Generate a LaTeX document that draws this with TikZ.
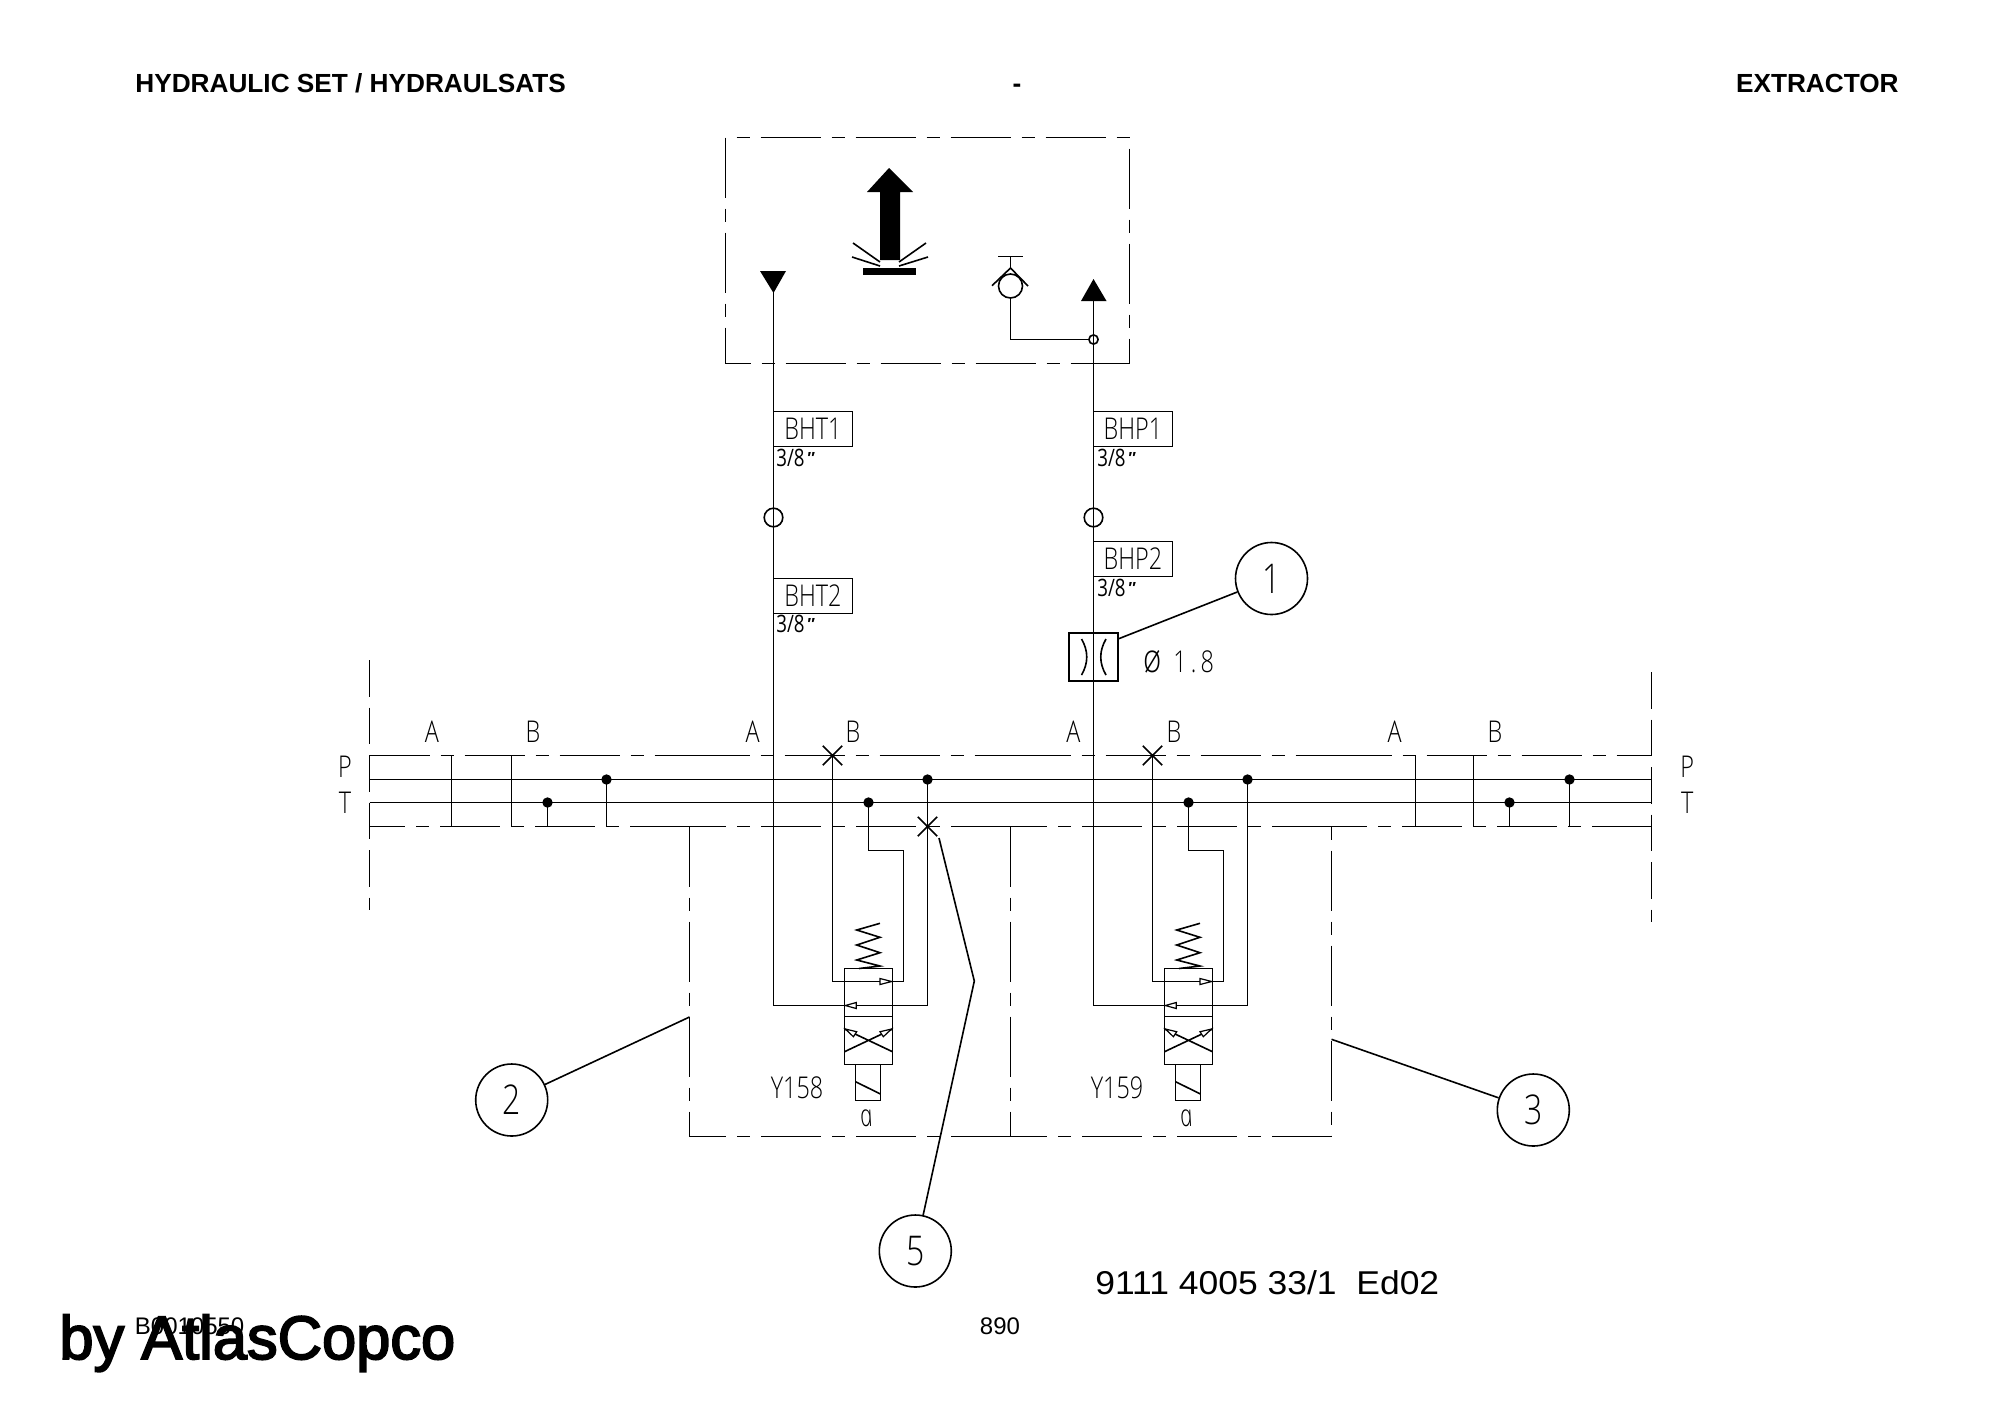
\documentclass[tikz,border=0pt]{standalone}
\usepackage{fontspec}
\setmainfont{Liberation Sans}
\newfontfamily\iso[FakeStretch=0.78]{Open Sans Light}
\newfontfamily\isoreg[FakeStretch=0.78]{Open Sans}
\newfontfamily\isoa[FakeStretch=0.72,FakeSlant=-0.2]{Open Sans Light Italic}
\newfontfamily\arialb{Liberation Sans Bold}
\newfontfamily\marksans{Liberation Sans Bold Italic}
\newfontfamily\wide[FakeStretch=1.075]{Liberation Sans}
\newfontfamily\fatreg[FakeBold=3]{Liberation Sans}
\newcommand\inchmark{\hspace{1pt}\raisebox{1.4pt}{\marksans\fontsize{8}{8}\selectfont ″}}
\tikzset{
  ln/.style={line width=0.8pt,black},
  secdash/.style={ln,dash pattern=on 30pt off 5.5pt on 6.5pt off 5.5pt,dash phase=#1},
  secdash/.default=0pt,
  bound/.style={ln,dash pattern=on 18.25pt off 5.5pt},
  isotext/.style={inner sep=0pt,font=\iso\fontsize{15}{15}\selectfont},
  small/.style={inner sep=0pt,anchor=base west,font=\isoreg\fontsize{12}{12}\selectfont},
  tag/.style={draw,ln,minimum width=39.5pt,minimum height=17.5pt,inner sep=0pt,font=\iso\fontsize{15}{15}\selectfont},
  balloon/.style={draw,ln,circle,minimum size=36pt,inner sep=0pt,font=\iso\fontsize{20.5}{20.5}\selectfont},
  ring/.style={draw,ln,circle,minimum size=9.3pt,inner sep=0pt},
  dotn/.style={fill=black,circle,minimum size=5.2pt,inner sep=0pt},
  head/.style={inner sep=0pt,font=\arialb\fontsize{13.1}{13.1}\selectfont},
  plain/.style={inner sep=0pt,font=\fontsize{12}{12}\selectfont},
  hollow/.style={ln,fill=white,line width=0.6pt}
}
% one valve section: x shift in pt, prefix, solenoid label, top of main line
\newcommand\valvesection[4]{%
\begin{scope}[xshift=#1pt]
  \node[dotn] (#2-dt) at (868.5,802.5) {};
  \node[dotn] (#2-dp) at (927.5,779.5) {};
  \coordinate (#2-ab) at (832.5,755.5);
  \coordinate (#2-c1) at (868.5,850.5);
  \coordinate (#2-c2) at (903.5,850.5);
  \coordinate (#2-c3) at (903.5,981.5);
  \coordinate (#2-c4) at (832.5,981.5);
  \coordinate (#2-c5) at (927.5,1005.5);
  \coordinate (#2-c6) at (773.5,1005.5);
  \draw[ln] (#4) -- (#2-c6) -- (#2-c5) -- (#2-dp.center);
  \draw[ln] (#2-dt.center) -- (#2-c1) -- (#2-c2) -- (#2-c3) -- (#2-c4) -- (#2-ab);
  \draw[ln] (844.5,968.5) rectangle (892.5,1064.5);
  \draw[ln] (844.5,1016.5) -- (892.5,1016.5);
  \draw[ln] (844.5,1029) -- (892.5,1051.7) (892.5,1029) -- (844.5,1051.7);
  \draw[ln] (855.5,1064.5) rectangle (880.5,1100.5);
  \draw[ln] (855.5,1081.7) -- (880.5,1094);
  \draw[ln,line join=miter] (880,923.3) -- (856.7,930) -- (880,937.3) -- (856.7,945) -- (880,952.7) -- (856.7,960) -- (880,966) -- (859,968.5);
  \draw[hollow] (891.7,981.5) -- (880,978.5) -- (880,984.5) -- cycle;
  \draw[hollow] (845.3,1005.5) -- (856.2,1002.5) -- (856.2,1008.5) -- cycle;
  \draw[hollow] (845.3,1029) -- (856.7,1031.7) -- (853.4,1036.7) -- cycle;
  \draw[hollow] (891.5,1029) -- (880,1031.7) -- (883.3,1036.7) -- cycle;
  \node[isotext] (#2-y) at (797,1087.7) {#3};
  \node[inner sep=0pt,font=\isoa\fontsize{15.5}{15.5}\selectfont] (#2-a) at (868,1118) {a};
\end{scope}}
\begin{document}
\begin{tikzpicture}[x=0.5pt,y=-0.5pt]
\useasboundingbox (0,0) rectangle (2000,1414);
% header
\node[head,anchor=base west] (h1) at (135,92.5) {HYDRAULIC SET / HYDRAULSATS};
\node[head,anchor=base] (h2) at (1017,92.5) {-};
\node[head,anchor=base east] (h3) at (1899,92.5) {EXTRACTOR};
% top block
\coordinate (tl) at (725.5,137.5); \coordinate (tr) at (1129.5,137.5);
\coordinate (bl) at (725.5,363.5); \coordinate (br) at (1129.5,363.5);
\draw[secdash=0pt] (tl) -- (bl);
\draw[secdash=30pt] (tl) -- (tr);
\draw[secdash=42pt] (tr) -- (br);
\draw[secdash=17.5pt] (bl) -- (br);
% big arrow
\fill (889,168) -- (913,192) -- (900,192) -- (900,260) -- (880,260) -- (880,192) -- (867,192) -- cycle;
\fill (863,268) rectangle (916,275);
\draw[ln] (853,243) -- (880,262) (852,257) -- (880,266) (926,243) -- (899,262) (928,257) -- (899,266);
% ports
\coordinate (atop) at (773.5,280);
\coordinate (ptop) at (1093.5,295);
\fill (760,271) -- (786,271) -- (773.5,293) -- cycle;
\fill (1093.5,279) -- (1106.5,301) -- (1081,301) -- cycle;
% check valve
\node[ln,draw,circle,minimum size=12pt,inner sep=0pt] (chk) at (1010.5,286) {};
\node[ring,minimum size=4.6pt] (tee) at (1093.5,339.5) {};
\coordinate (chk2) at (1010.5,339.5);
\draw[ln] (chk) -- (chk2) -- (tee);
\draw[ln] (992,285.7) -- (1010.5,268) -- (1028,286);
\draw[ln] (1010.5,268) -- (1010.5,256.5) (998,256.5) -- (1023,256.5);
% lines and fittings
\node[ring] (r1) at (773.5,517.5) {};
\node[ring] (r2) at (1093.5,517.5) {};
\node[tag,anchor=north west] (bht1) at (772.7,410.7) {BHT1};
\node[tag,anchor=north west] (bht2) at (772.7,577.7) {BHT2};
\node[tag,anchor=north west] (bhp1) at (1092.7,410.7) {BHP1};
\node[tag,anchor=north west] (bhp2) at (1092.7,540.7) {BHP2};
\node[small] (s1) at (776,466.7) {3/8\inchmark};
\node[small] (s2) at (776,632.3) {3/8\inchmark};
\node[small] (s3) at (1097,466.7) {3/8\inchmark};
\node[small] (s4) at (1097,596) {3/8\inchmark};
% restrictor
\node[draw,ln,minimum width=24.3pt,minimum height=24pt,inner sep=0pt] (restr) at (1093.5,657) {};
\draw[ln] (1081.5,639) .. controls (1088.5,651) and (1088.5,663) .. (1081.5,675);
\draw[ln] (1106,639) .. controls (1099,651) and (1099,663) .. (1106,675);
\node[isotext,anchor=base west] (dia) at (1143,672) {\makebox[15pt][l]{\fontsize{20}{20}\selectfont ø}{\addfontfeatures{LetterSpace=14}1.8}};
\coordinate (rl) at (1118,639);
\node[balloon] (b1) at (1271.5,578.5) {\raisebox{-0.6pt}{1}};
\draw[ln] (rl) -- (b1);
% valve sections
\valvesection{0}{v1}{Y158}{atop}
\valvesection{160}{v2}{Y159}{ptop}
% pressure / tank rails
\node[isotext] (lp) at (345,766.7) {P};
\node[isotext] (lt) at (345,802.7) {T};
\node[isotext] (rp) at (1687.3,766.7) {P};
\node[isotext] (rt) at (1687.3,802.7) {T};
\coordinate (ltop) at (369.5,660); \coordinate (lbot) at (369.5,910);
\coordinate (rtop) at (1651.5,672); \coordinate (rbot) at (1651.5,922);
\draw[bound] (ltop) -- (lbot);
\draw[bound] (rtop) -- (rbot);
\foreach \n/\yy in {p/779.5,t/802.5,a/755.5,b/826.5}{
  \coordinate (\n0) at (369.5,\yy);
  \coordinate (\n1) at (689.5,\yy);
  \coordinate (\n2) at (1010.5,\yy);
  \coordinate (\n3) at (1331.5,\yy);
  \coordinate (\n4) at (1651.5,\yy);
}
\draw[ln] (p0) -- (p4);
\draw[ln] (t0) -- (t4);
\draw[secdash] (a0) -- (a1);
\draw[secdash] (a1) -- (a2);
\draw[secdash] (a2) -- (a3);
\draw[secdash] (a3) -- (a4);
\draw[secdash] (b1) -- (b0);
\draw[secdash] (b2) -- (b1);
\draw[secdash] (b3) -- (b2);
\draw[secdash] (b4) -- (b3);
% end plates of the rails
\draw[ln] (451.5,755.5) -- (451.5,826.5);
\draw[ln] (511.5,755.5) -- (511.5,826.5);
\node[dotn] (ld1) at (547.5,802.5) {};
\node[dotn] (ld2) at (606.5,779.5) {};
\draw[ln] (ld1.center) -- (547.5,826.5) (ld2.center) -- (606.5,826.5);
\draw[ln] (1415.5,755.5) -- (1415.5,826.5);
\draw[ln] (1473.5,755.5) -- (1473.5,826.5);
\node[dotn] (rd1) at (1509.5,802.5) {};
\node[dotn] (rd2) at (1569.5,779.5) {};
\draw[ln] (rd1.center) -- (1509.5,826.5) (rd2.center) -- (1569.5,826.5);
% port letters
\foreach \nm/\xx/\tx in {la/432/A,lb/533/B,va/752.7/A,vb/853/B,wa/1073.5/A,wb/1174/B,xa/1394.7/A,xb/1495/B}{
  \node[isotext] (\nm) at (\xx,732) {\tx};
}
% crosses
\draw[ln] (822.8,745.8) -- (842.2,765.2) (822.8,765.2) -- (842.2,745.8);
\draw[ln] (1142.8,745.8) -- (1162.2,765.2) (1142.8,765.2) -- (1162.2,745.8);
\draw[ln] (917.8,816.8) -- (937.2,836.2) (917.8,836.2) -- (937.2,816.8);
% section frames
\coordinate (f0) at (689.5,826.5); \coordinate (f1) at (1010.5,826.5); \coordinate (f2) at (1331.5,826.5);
\coordinate (g0) at (689.5,1136.5); \coordinate (g1) at (1010.5,1136.5); \coordinate (g2) at (1331.5,1136.5);
\draw[secdash] (f0) -- (g0);
\draw[secdash] (f1) -- (g1);
\draw[secdash=35.5pt] (f2) -- (g2);
\draw[secdash] (g1) -- (g0);
\draw[secdash] (g2) -- (g1);
% balloons
\node[balloon] (b2) at (511.7,1100) {\raisebox{-0.6pt}{2}};
\node[balloon] (b3) at (1533.3,1110) {\raisebox{-1pt}{3}};
\node[balloon] (b5) at (915.3,1251) {\raisebox{-1pt}{5}};
\coordinate (l2) at (689.5,1017);
\coordinate (l3) at (1331.5,1039.3);
\coordinate (l5a) at (939,838);
\coordinate (l5b) at (974.3,981);
\draw[ln] (l2) -- (b2);
\draw[ln] (l3) -- (b3);
\draw[ln] (l5a) -- (l5b) -- (b5);
% footer
\node[inner sep=0pt,anchor=base west,font=\wide\fontsize{16.5}{16.5}\selectfont] (f1t) at (1095,1294.5) {9111 4005 33/1\ \ Ed02};
\node[plain,anchor=base] (f2t) at (1000,1334) {890};
\node[plain,anchor=base west] (f3t) at (134.5,1334) {B0010550};
\node[inner sep=0pt,anchor=base west,font=\fatreg\fontsize{30.7}{30.7}\selectfont] (f4t) at (59,1359) {by AtlasCopco};
\end{tikzpicture}
\end{document}
